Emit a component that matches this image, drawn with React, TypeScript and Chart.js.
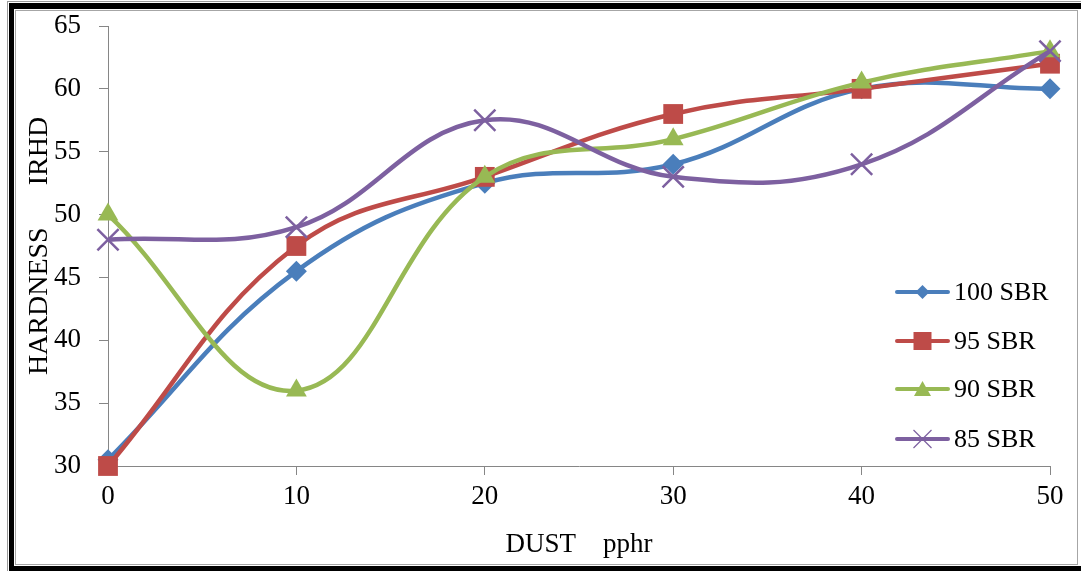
import React, { useEffect, useRef } from "react";
import { Chart, registerables } from "chart.js";

Chart.register(...registerables);

// Dust loading (pphr) on the x axis
const dust = [0, 10, 20, 30, 40, 50];

// Hardness (IRHD) for each rubber blend
const sbr100 = [30.5, 45.5, 52.5, 54, 60, 60];
const sbr95 = [30, 47.5, 53, 58, 60, 62];
const sbr90 = [50, 36, 53, 56, 60.5, 63];
const sbr85 = [48, 49, 57.5, 53, 54, 63];

const seriesNames = ["100 SBR", "95 SBR", "90 SBR", "85 SBR"];
const seriesColors = ["#4A7EBB", "#BE4B48", "#98B954", "#7D60A0"];
const seriesStyles = ["rectRot", "rect", "triangle", "crossRot"];
const seriesRadius = [10.5, 14, 12, 15];

const yMin = 30;
const yMax = 65;
const yStep = 5;
const xStep = 10;

const xTitle = "DUST    pphr";
const yTitle = "HARDNESS      IRHD";

const FONT = "'Liberation Serif', 'Times New Roman', serif";
const AXIS_GREY = "#868686";

function drawLegendMarker(
  ctx: CanvasRenderingContext2D,
  style: string,
  x: number,
  y: number,
  color: string
) {
  ctx.save();
  ctx.fillStyle = color;
  ctx.strokeStyle = color;
  ctx.beginPath();
  if (style === "rectRot") {
    const r = 7;
    ctx.moveTo(x, y - r);
    ctx.lineTo(x + r, y);
    ctx.lineTo(x, y + r);
    ctx.lineTo(x - r, y);
    ctx.closePath();
    ctx.fill();
  } else if (style === "rect") {
    ctx.rect(x - 9, y - 9, 18, 18);
    ctx.fill();
  } else if (style === "triangle") {
    ctx.moveTo(x, y - 8);
    ctx.lineTo(x + 8.5, y + 7);
    ctx.lineTo(x - 8.5, y + 7);
    ctx.closePath();
    ctx.fill();
  } else {
    const r = 9;
    ctx.lineWidth = 1.2;
    ctx.moveTo(x - r, y - r);
    ctx.lineTo(x + r, y + r);
    ctx.moveTo(x + r, y - r);
    ctx.lineTo(x - r, y + r);
    ctx.stroke();
  }
  ctx.restore();
}

const titlesAndLegend = {
  id: "titlesAndLegend",
  afterDraw(chart: any) {
    const ctx: CanvasRenderingContext2D = chart.ctx;
    const area = chart.chartArea;
    ctx.save();
    ctx.fillStyle = "#000";
    ctx.font = `27px ${FONT}`;
    ctx.textAlign = "center";
    ctx.textBaseline = "alphabetic";
    // x-axis title
    ctx.fillText(xTitle, (area.left + area.right) / 2, 552);
    // y-axis title, rotated
    ctx.save();
    ctx.font = `28px ${FONT}`;
    ctx.translate(47, (area.top + area.bottom) / 2);
    ctx.rotate(-Math.PI / 2);
    ctx.fillText(yTitle, 0, 0);
    ctx.restore();

    // legend: line segment with marker, then label
    const lx0 = 897;
    const lx1 = 948;
    const ys = [292, 341, 389, 439];
    ctx.font = `26px ${FONT}`;
    ctx.textAlign = "left";
    ctx.textBaseline = "middle";
    seriesNames.forEach((name, i) => {
      const y = ys[i];
      ctx.save();
      ctx.strokeStyle = seriesColors[i];
      ctx.lineWidth = 4;
      ctx.lineCap = "round";
      ctx.beginPath();
      ctx.moveTo(lx0, y);
      ctx.lineTo(lx1, y);
      ctx.stroke();
      ctx.restore();
      drawLegendMarker(ctx, seriesStyles[i], (lx0 + lx1) / 2, y, seriesColors[i]);
      ctx.fillStyle = "#000";
      ctx.fillText(name, 954, y + 1);
    });
    ctx.restore();
  },
};

export default function App() {
  const canvasRef = useRef<HTMLCanvasElement | null>(null);

  useEffect(() => {
    const canvas = canvasRef.current;
    if (!canvas) return;
    const seriesValues = [sbr100, sbr95, sbr90, sbr85];
    const datasets = seriesValues.map((vals, i) => ({
      label: seriesNames[i],
      data: dust.map((x, j) => ({ x, y: vals[j] })),
      borderColor: seriesColors[i],
      backgroundColor: seriesColors[i],
      borderWidth: 4.5,
      tension: 0.4,
      pointStyle: seriesStyles[i],
      pointRadius: seriesRadius[i],
      pointHoverRadius: seriesRadius[i],
      pointBorderWidth: i === 3 ? 2.5 : 0,
      pointBackgroundColor: seriesColors[i],
      pointBorderColor: seriesColors[i],
      clip: false as any,
      order: 4 - i,
    }));

    const chart = new Chart(canvas, {
      type: "line",
      data: { datasets },
      options: {
        animation: false,
        responsive: false,
        devicePixelRatio: 1,
        layout: { padding: { left: 0, right: 31, top: 26, bottom: 0 } },
        plugins: {
          legend: { display: false },
          tooltip: { enabled: false },
          title: { display: false },
        },
        scales: {
          x: {
            type: "linear",
            min: dust[0],
            max: dust[dust.length - 1],
            afterFit: (scale: any) => {
              scale.height = 105;
              scale.paddingLeft = 0;
              scale.paddingRight = 0;
            },
            ticks: {
              stepSize: xStep,
              color: "#000",
              font: { family: FONT, size: 27 },
              padding: 6,
              maxRotation: 0,
            },
            grid: {
              display: true,
              drawOnChartArea: false,
              drawTicks: true,
              tickLength: 9,
              color: AXIS_GREY,
            },
            border: { display: true, color: AXIS_GREY, width: 1 },
          },
          y: {
            type: "linear",
            min: yMin,
            max: yMax,
            afterFit: (scale: any) => {
              scale.width = 108;
              scale.paddingTop = 0;
              scale.paddingBottom = 0;
            },
            ticks: {
              stepSize: yStep,
              color: "#000",
              font: { family: FONT, size: 27 },
              padding: 18,
            },
            grid: {
              display: true,
              drawOnChartArea: false,
              drawTicks: true,
              tickLength: 9,
              color: AXIS_GREY,
            },
            border: { display: true, color: AXIS_GREY, width: 1 },
          },
        },
      },
      plugins: [titlesAndLegend],
    });

    return () => chart.destroy();
  }, []);

  return (
    <div
      style={{
        position: "absolute",
        left: 0,
        top: 0,
        width: 1081,
        height: 571,
        overflow: "hidden",
        background: "#fff",
      }}
    >
      {/* outer hairline */}
      <div
        style={{
          position: "absolute",
          left: 7,
          top: 1,
          width: 1200,
          height: 700,
          borderLeft: "1px solid #9a9a9a",
          borderTop: "1px solid #9a9a9a",
          boxSizing: "border-box",
        }}
      />
      {/* heavy black frame */}
      <div
        style={{
          position: "absolute",
          left: 9,
          top: 3,
          width: 1200,
          height: 573,
          borderLeft: "5px solid #000",
          borderTop: "6px solid #000",
          borderBottom: "10px solid #000",
          boxSizing: "border-box",
        }}
      />
      {/* inner hairline */}
      <div
        style={{
          position: "absolute",
          left: 15,
          top: 10,
          width: 1063,
          height: 555,
          border: "1px solid #a6a6a6",
          boxSizing: "border-box",
          background: "#fff",
        }}
      />
      <canvas
        ref={canvasRef}
        width={1081}
        height={571}
        style={{ position: "absolute", left: 0, top: 0, width: 1081, height: 571 }}
      />
    </div>
  );
}
